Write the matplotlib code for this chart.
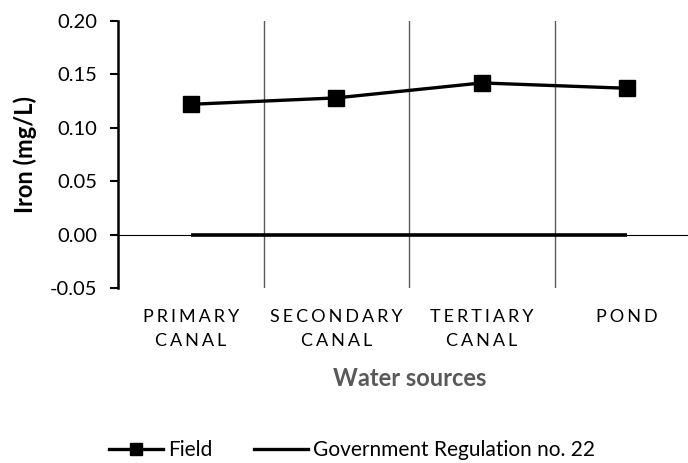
import matplotlib
matplotlib.use("Agg")
import matplotlib.pyplot as plt
from matplotlib.lines import Line2D

plt.rcParams['font.family'] = ['Lato', 'DejaVu Sans']

# data
categories = [["PRIMARY", "CANAL"], ["SECONDARY", "CANAL"], ["TERTIARY", "CANAL"], ["POND"]]
field = [0.122, 0.128, 0.142, 0.137]
regulation = [0.0, 0.0, 0.0, 0.0]
yticks = [-0.05, 0.0, 0.05, 0.10, 0.15, 0.20]


def spaced(words):
    # imitate the wide letter spacing of the category labels
    return "\n".join("\u2006".join(w) for w in words)


fig = plt.figure(figsize=(6.88, 4.63), dpi=100)
ax = fig.add_axes([118 / 688, 1 - 288 / 463, (700 - 118) / 688, (288 - 21) / 463])

x = list(range(len(field)))
ax.plot(x, regulation, color="black", lw=2.6, solid_capstyle="butt", zorder=3)
ax.plot(x, field, color="black", lw=2.4, marker="s", markersize=12, zorder=4)
ax.axhline(0, color="black", lw=0.8, zorder=2)

# vertical separators between categories
for b in [0.5, 1.5, 2.5]:
    ax.axvline(b, color="#595959", lw=1.0, zorder=1)

ax.set_xlim(-0.5, 3.5)
ax.set_ylim(-0.05, 0.20)
ax.set_yticks(yticks)
ax.set_yticklabels([f"{v:.2f}" for v in yticks], fontsize=14.5)
ax.tick_params(axis="y", length=6, width=1.5, pad=9, direction="out")
ax.set_xticks(x)
ax.set_xticklabels([spaced(c) for c in categories], fontsize=13, linespacing=1.6)
ax.tick_params(axis="x", length=0, pad=15)

for s in ["top", "right", "bottom"]:
    ax.spines[s].set_visible(False)
ax.spines["left"].set_linewidth(1.8)

ax.set_ylabel("Iron (mg/L)", fontsize=17, fontweight="bold")
ax.yaxis.set_label_coords((37 - 118) / 582, 0.5)
fig.text(410 / 688, 1 - 379 / 463, "Water sources", fontsize=17, fontweight="bold",
         color="#595959", ha="center", va="center")

handles = [Line2D([], [], color="black", lw=2.4, marker="s", markersize=9),
           Line2D([], [], color="black", lw=2.4)]
fig.legend(handles, ["Field", "Government Regulation no. 22"], loc="center",
           bbox_to_anchor=(352 / 688, 1 - 450 / 463), ncol=2, frameon=False,
           fontsize=15, handlelength=2.6, handletextpad=0.25, columnspacing=2.0)

fig.savefig("out.png", dpi=100)
